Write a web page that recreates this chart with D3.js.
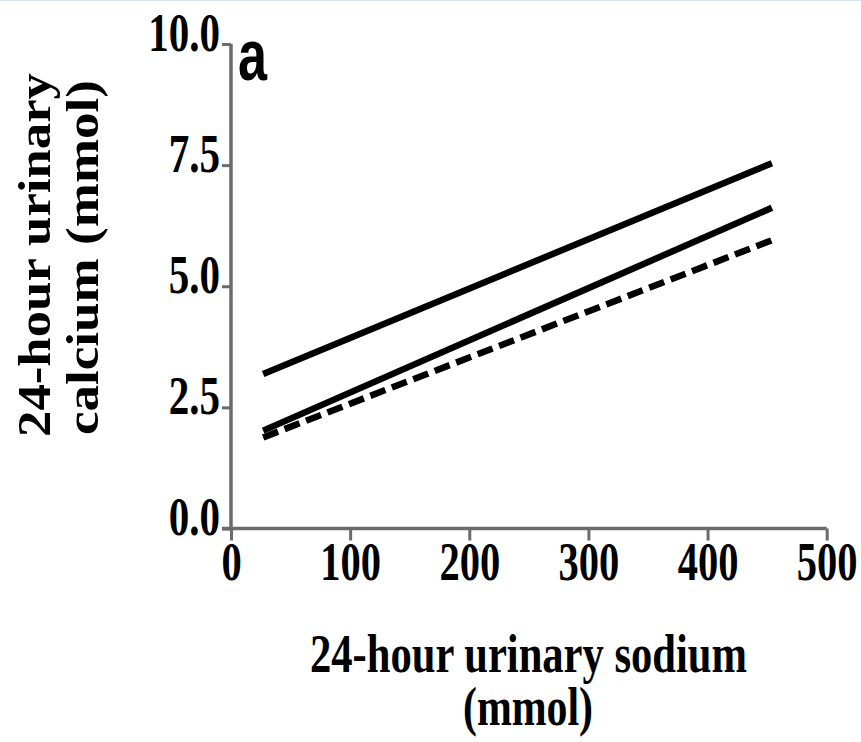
<!DOCTYPE html>
<html>
<head>
<meta charset="utf-8">
<script src="https://cdn.jsdelivr.net/npm/d3@7"></script>
<style>
  body { margin: 0; background: #fff; }
  text { font-family: "Liberation Serif", "Times New Roman", serif; font-weight: bold; fill: #000; }
</style>
</head>
<body>
<div class="grafico"></div>
<script>
var width = 861, height = 742;

// data
var sodium = [27, 454];                 // x extent of the fitted lines
var upperLine = [3.19, 7.54];           // solid, top
var middleLine = [2.02, 6.62];          // solid, middle
var dashedLine = [1.88, 5.95];          // dashed, bottom
var xTicks = [0, 100, 200, 300, 400, 500];
var yTicks = [0, 2.5, 5, 7.5, 10];

var x = d3.scaleLinear().domain([0, 500]).range([231, 826.7]);
var y = d3.scaleLinear().domain([0, 10]).range([528.5, 44]);

var svg = d3.select(".grafico").append("svg")
  .attr("width", width)
  .attr("height", height);

// thin frame line at the top of the scan
svg.append("line")
  .attr("x1", 0).attr("x2", width)
  .attr("y1", 0.5).attr("y2", 0.5)
  .attr("stroke", "#d6e4ee");

// squeeze text horizontally like the scanned type
function squeeze(sel, k) {
  sel.each(function () {
    var w = this.getComputedTextLength();
    d3.select(this)
      .attr("textLength", w * k)
      .attr("lengthAdjust", "spacingAndGlyphs");
  });
}

// axes
var xAxis = svg.append("g")
  .attr("transform", "translate(0," + y(0) + ")")
  .call(d3.axisBottom(x).tickValues(xTicks).tickSize(12).tickSizeOuter(0).tickFormat(d3.format("d")));

var yAxis = svg.append("g")
  .attr("transform", "translate(" + x(0) + ",0)")
  .call(d3.axisLeft(y).tickValues(yTicks).tickSize(9).tickSizeOuter(0).tickFormat(d3.format(".1f")));

[xAxis, yAxis].forEach(function (g) {
  g.select(".domain").attr("stroke", "#6b6b6b").attr("stroke-width", 3.5);
  g.selectAll(".tick line").attr("stroke", "#6b6b6b").attr("stroke-width", 3);
  g.selectAll(".tick text").style("font-size", "54px");
});

// x axis runs a bit past the y axis on the left
xAxis.select(".domain").attr("d", "M" + (x(0) - 9) + ",0H" + x(500));
yAxis.select(".domain").attr("d", "M0," + y(10) + "V" + y(0));

xAxis.selectAll(".tick text").attr("y", 51).attr("dy", 0);
yAxis.selectAll(".tick text").attr("x", -11).attr("dy", 6);
squeeze(xAxis.selectAll(".tick text"), 0.75);
squeeze(yAxis.selectAll(".tick text"), 0.76);

// fitted lines
var line = d3.line()
  .x(function (d) { return x(d[0]); })
  .y(function (d) { return y(d[1]); });

var series = [
  { vals: upperLine, dash: null },
  { vals: middleLine, dash: null },
  { vals: dashedLine, dash: "16,7" }
];

svg.append("g").selectAll("path")
  .data(series)
  .enter().append("path")
  .attr("d", function (s) { return line(d3.zip(sodium, s.vals)); })
  .attr("fill", "none")
  .attr("stroke", "#000")
  .attr("stroke-width", 6.5)
  .attr("stroke-dasharray", function (s) { return s.dash; });

// panel letter
svg.append("text")
  .attr("x", 238)
  .attr("y", 80)
  .style("font-family", "'Liberation Sans', Arial, sans-serif")
  .style("font-size", "72px")
  .attr("textLength", 29)
  .attr("lengthAdjust", "spacingAndGlyphs")
  .text("a");

// x title
svg.append("text")
  .attr("x", 528.5).attr("y", 672)
  .attr("text-anchor", "middle")
  .style("font-size", "54px")
  .attr("textLength", 437)
  .attr("lengthAdjust", "spacingAndGlyphs")
  .text("24-hour urinary sodium");

svg.append("text")
  .attr("x", 528).attr("y", 725)
  .attr("text-anchor", "middle")
  .style("font-size", "54px")
  .attr("textLength", 130)
  .attr("lengthAdjust", "spacingAndGlyphs")
  .text("(mmol)");

// y title
svg.append("text")
  .attr("transform", "translate(50,255) rotate(-90)")
  .attr("text-anchor", "middle")
  .style("font-size", "46px")
  .attr("textLength", 364)
  .attr("lengthAdjust", "spacingAndGlyphs")
  .text("24-hour urinary");

svg.append("text")
  .attr("transform", "translate(98,257.5) rotate(-90)")
  .attr("text-anchor", "middle")
  .style("font-size", "46px")
  .attr("textLength", 355)
  .attr("lengthAdjust", "spacingAndGlyphs")
  .text("calcium (mmol)");
</script>
</body>
</html>
